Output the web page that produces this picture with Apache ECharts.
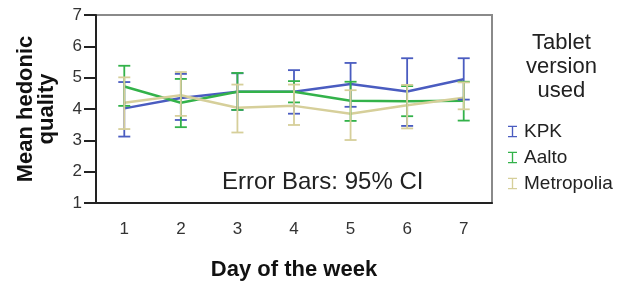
<!DOCTYPE html>
<html>
<head>
<meta charset="utf-8">
<script src="https://cdn.jsdelivr.net/npm/echarts@6/dist/echarts.min.js"></script>
<style>
  html, body { margin: 0; padding: 0; background: #fff; }
  #chart { width: 629px; height: 282px; }
</style>
</head>
<body>
<div id="chart"></div>
<script>
// x axis categories
const days = ["1", "2", "3", "4", "5", "6", "7"];
const seriesNames = ["KPK", "Aalto", "Metropolia"];
const colors = ["#4a5cc0", "#33b24a", "#d6cf9a"];

// means and 95% CI bounds
const kpkMean = [4.02, 4.35, 4.55, 4.55, 4.80, 4.56, 4.95];
const kpkLow = [3.12, 3.65, 3.97, 3.85, 4.07, 3.46, 4.30];
const kpkHigh = [4.86, 5.12, 5.14, 5.24, 5.47, 5.62, 5.62];

const aaltoMean = [4.72, 4.20, 4.55, 4.55, 4.26, 4.25, 4.26];
const aaltoLow = [4.10, 3.42, 3.97, 4.21, 3.62, 3.77, 3.63];
const aaltoHigh = [5.38, 4.96, 5.15, 4.89, 4.87, 4.73, 4.87];

const metroMean = [4.20, 4.44, 4.04, 4.10, 3.85, 4.12, 4.36];
const metroLow = [3.36, 3.78, 3.25, 3.49, 3.01, 3.38, 3.99];
const metroHigh = [5.01, 5.18, 4.78, 4.78, 4.60, 4.77, 4.85];

const means = [kpkMean, aaltoMean, metroMean];
const lows = [kpkLow, aaltoLow, metroLow];
const highs = [kpkHigh, aaltoHigh, metroHigh];

const font = "Liberation Sans, Arial, sans-serif";

function renderErrorBar(params, api) {
  const lo = api.coord([api.value(0), api.value(1)]);
  const hi = api.coord([api.value(0), api.value(2)]);
  const w = 6;
  const style = { stroke: api.visual("color"), lineWidth: 1.8 };
  return {
    type: "group",
    children: [
      { type: "line", shape: { x1: lo[0], y1: lo[1], x2: hi[0], y2: hi[1] }, style: style },
      { type: "line", shape: { x1: lo[0] - w, y1: lo[1], x2: lo[0] + w, y2: lo[1] }, style: style },
      { type: "line", shape: { x1: hi[0] - w, y1: hi[1], x2: hi[0] + w, y2: hi[1] }, style: style }
    ]
  };
}

const series = [];
seriesNames.forEach(function (name, i) {
  series.push({
    name: name,
    type: "line",
    data: means[i],
    symbol: "none",
    color: colors[i],
    lineStyle: { width: 2.5, color: colors[i] },
    z: 3
  });
});
seriesNames.forEach(function (name, i) {
  series.push({
    name: name,
    type: "custom",
    color: colors[i],
    renderItem: renderErrorBar,
    encode: { x: 0, y: [1, 2] },
    data: days.map(function (d, k) { return [k, lows[i][k], highs[i][k]]; }),
    z: 4
  });
});

const chart = echarts.init(document.getElementById("chart"));
chart.setOption({
  animation: false,
  textStyle: { fontFamily: font },
  grid: {
    left: 96, right: 137, top: 15, bottom: 79,
    outerBoundsMode: "none",
    containLabel: false,
    show: true, borderColor: "#8a8a8a", borderWidth: 2
  },
  xAxis: {
    type: "category",
    data: days,
    boundaryGap: true,
    name: "Day of the week",
    nameLocation: "middle",
    nameGap: 56,
    nameTextStyle: { fontSize: 22, fontWeight: "bold", color: "#111", fontFamily: font },
    axisLine: { lineStyle: { color: "#222", width: 2 } },
    axisTick: { alignWithLabel: true, length: 12, lineStyle: { color: "#222", width: 2 } },
    axisLabel: { margin: 18, fontSize: 17, color: "#333", fontFamily: font },
    splitLine: { show: false }
  },
  yAxis: {
    type: "value",
    min: 1, max: 7, interval: 1,
    name: "Mean hedonic\nquality",
    nameLocation: "middle",
    nameRotate: 90,
    nameGap: 39,
    nameTextStyle: { fontSize: 22, fontWeight: "bold", color: "#111", lineHeight: 21, fontFamily: font },
    axisLine: { show: true, lineStyle: { color: "#222", width: 2 } },
    axisTick: { show: true, length: 12, lineStyle: { color: "#222", width: 2 } },
    axisLabel: { margin: 14, fontSize: 17, color: "#333", fontFamily: font },
    splitLine: { show: false }
  },
  legend: {
    orient: "vertical",
    left: 503, top: 117,
    itemWidth: 9, itemHeight: 13,
    itemGap: 7,
    data: seriesNames.map(function (n) {
      return { name: n, icon: "path://M0,0h10v1.5h-4.25v10h4.25v1.5h-10v-1.5h4.25v-10h-4.25z" };
    }),
    textStyle: { fontSize: 19, color: "#222", fontFamily: font, padding: [0, 0, 0, 2] }
  },
  graphic: [
    {
      type: "text",
      left: 526, top: 31,
      style: {
        text: "Tablet\nversion\nused",
        font: "22px " + font,
        fill: "#222",
        textAlign: "center",
        lineHeight: 24
      }
    },
    {
      type: "text",
      left: 222, top: 170,
      style: {
        text: "Error Bars: 95% CI",
        font: "24px " + font,
        fill: "#222"
      }
    }
  ],
  series: series
});
</script>
</body>
</html>
